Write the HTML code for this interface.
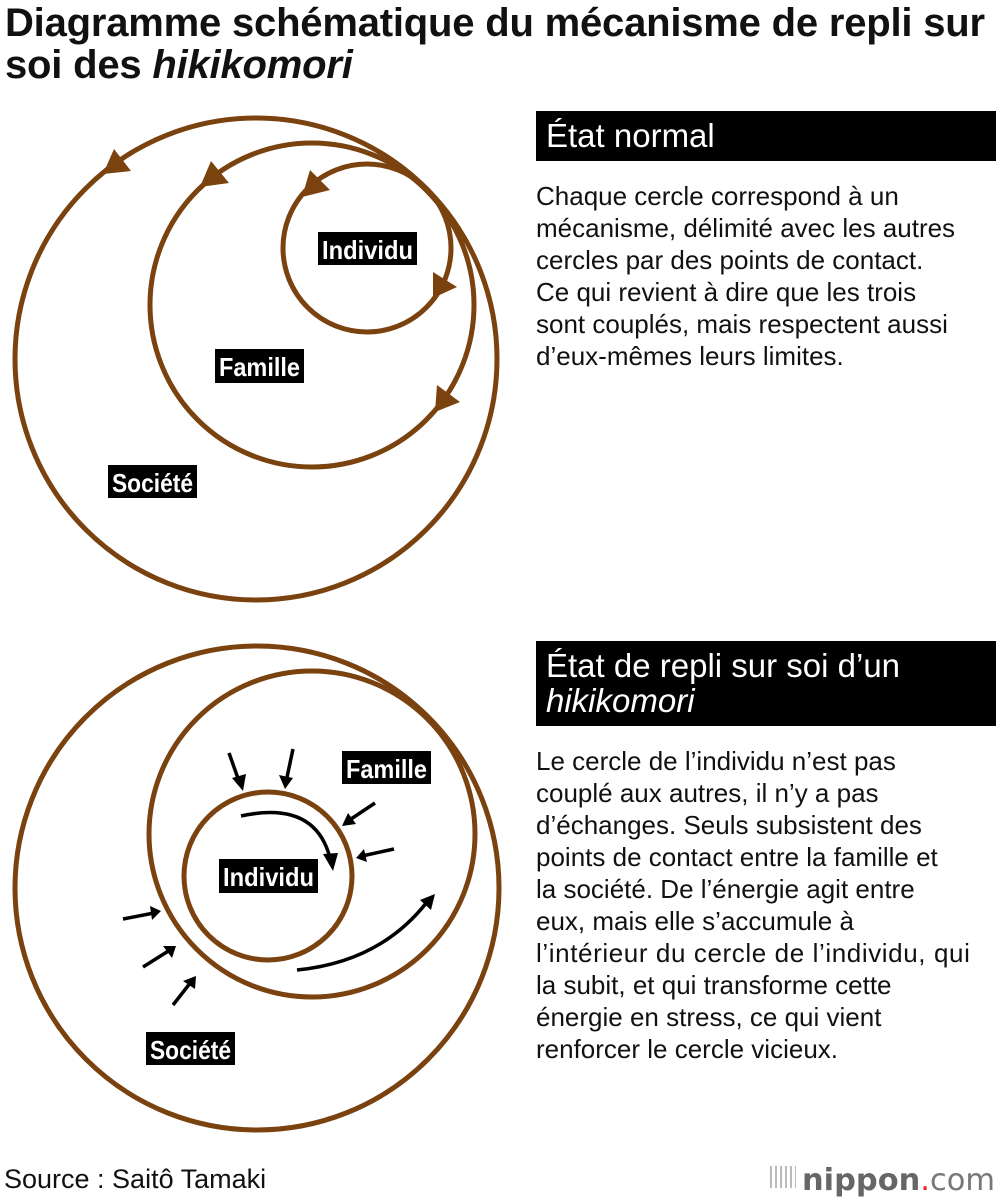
<!DOCTYPE html>
<html><head><meta charset="utf-8"><style>
body{margin:0;width:1000px;height:1200px;background:#fff;position:relative;overflow:hidden;font-family:"Liberation Sans",Arial,sans-serif;color:#111}
.t{position:absolute;left:5px;top:2px;font-size:40px;font-weight:bold;line-height:42px;letter-spacing:-0.2px;white-space:nowrap}
.h{position:absolute;left:536px;width:460px;background:#000;color:#fff;font-size:33px;line-height:36px;padding:7px 0 7px 10px;box-sizing:border-box}
.p{position:absolute;left:536px;font-size:26px;line-height:32px;width:470px;white-space:nowrap}
svg{position:absolute;left:0;top:0}
.lb{font-family:"Liberation Sans",sans-serif;font-weight:bold;font-size:26px;fill:#fff}
</style></head><body>
<div class="t">Diagramme schématique du mécanisme de repli sur<br>soi des <i>hikikomori</i></div>
<div class="h" style="top:111px;height:50px">État normal</div>
<div class="p" style="top:180px">Chaque cercle correspond à un<br>mécanisme, délimité avec les autres<br>cercles par des points de contact.<br>Ce qui revient à dire que les trois<br>sont couplés, mais respectent aussi<br>d’eux-mêmes leurs limites.</div>
<div class="h" style="top:641px;height:85px;line-height:35px">État de repli sur soi d’un<br><i>hikikomori</i></div>
<div class="p" style="top:745px">Le cercle de l’individu n’est pas<br>couplé aux autres, il n’y a pas<br>d’échanges. Seuls subsistent des<br>points de contact entre la famille et<br>la société. De l’énergie agit entre<br>eux, mais elle s’accumule à<br><span style="letter-spacing:0.6px">l’intérieur du cercle de l’individu, qui</span><br>la subit, et qui transforme cette<br>énergie en stress, ce qui vient<br>renforcer le cercle vicieux.</div>
<div style="position:absolute;left:4px;top:1164px;font-size:27px">Source : Saitô Tamaki</div>
<div style="position:absolute;left:770px;top:1166px;width:26px;height:22px;background:repeating-linear-gradient(90deg,#bbb 0 2px,transparent 2px 5px)"></div>
<svg width="1000" height="1200">
<text x="802" y="1190" font-family="DejaVu Sans,sans-serif" font-size="30" fill="#666" textLength="193" lengthAdjust="spacingAndGlyphs"><tspan font-weight="bold">nippon</tspan><tspan fill="#e22">.</tspan><tspan fill="#777">com</tspan></text>
<g fill="none" stroke="#7a420f" stroke-width="5">
<circle cx="256" cy="359" r="241"/>
<circle cx="312" cy="305" r="162"/>
<circle cx="367" cy="248" r="84"/>
<circle cx="257" cy="888" r="242"/>
<circle cx="312" cy="834" r="163"/>
<circle cx="268" cy="876" r="84"/>
</g>
<g fill="#7a420f">
<polygon points="103,174 114,149 131,171"/>
<polygon points="200,187 211,161 229,183"/>
<polygon points="302,197 310,170 330,190"/>
<polygon points="433,298 433,272 457,287"/>
<polygon points="435,412 437,385 460,402"/>
</g>
<g stroke="#000" stroke-width="3.5" fill="none">
<line x1="229" y1="753" x2="240" y2="784"/>
<line x1="293" y1="749" x2="286" y2="782"/>
<line x1="375" y1="803" x2="348" y2="821"/>
<line x1="394" y1="849" x2="362" y2="856"/>
<line x1="123" y1="919" x2="154" y2="913"/>
<line x1="143" y1="967" x2="170" y2="950"/>
<line x1="173" y1="1005" x2="191" y2="982"/>
<path d="M241,816 Q315,800 330,858"/>
<path d="M297,970 Q380,962 427,902"/>
</g>
<g fill="#000">
<polygon points="243,791 232,778 246,774"/>
<polygon points="285,789 279,775 293,778"/>
<polygon points="342,826 348,813 356,824"/>
<polygon points="356,858 364,849 367,862"/>
<polygon points="161,911 150,906 152,920"/>
<polygon points="176,946 163,946 172,958"/>
<polygon points="196,976 183,981 195,989"/>
<polygon points="333,871 323,854 338,853"/>
<polygon points="435,894 420,900 431,910"/>
</g>
<g fill="#000">
<rect x="318" y="232" width="99" height="33"/>
<rect x="215" y="349" width="89" height="34"/>
<rect x="108" y="465" width="89" height="33"/>
<rect x="342" y="751" width="89" height="33"/>
<rect x="219" y="859" width="99" height="34"/>
<rect x="146" y="1032" width="89" height="33"/>
</g>
<text class="lb" x="322" y="259" textLength="91" lengthAdjust="spacingAndGlyphs">Individu</text>
<text class="lb" x="219" y="376" textLength="81" lengthAdjust="spacingAndGlyphs">Famille</text>
<text class="lb" x="112" y="492" textLength="81" lengthAdjust="spacingAndGlyphs">Société</text>
<text class="lb" x="346" y="778" textLength="81" lengthAdjust="spacingAndGlyphs">Famille</text>
<text class="lb" x="223" y="886" textLength="91" lengthAdjust="spacingAndGlyphs">Individu</text>
<text class="lb" x="150" y="1059" textLength="81" lengthAdjust="spacingAndGlyphs">Société</text>
</svg>
</body></html>
